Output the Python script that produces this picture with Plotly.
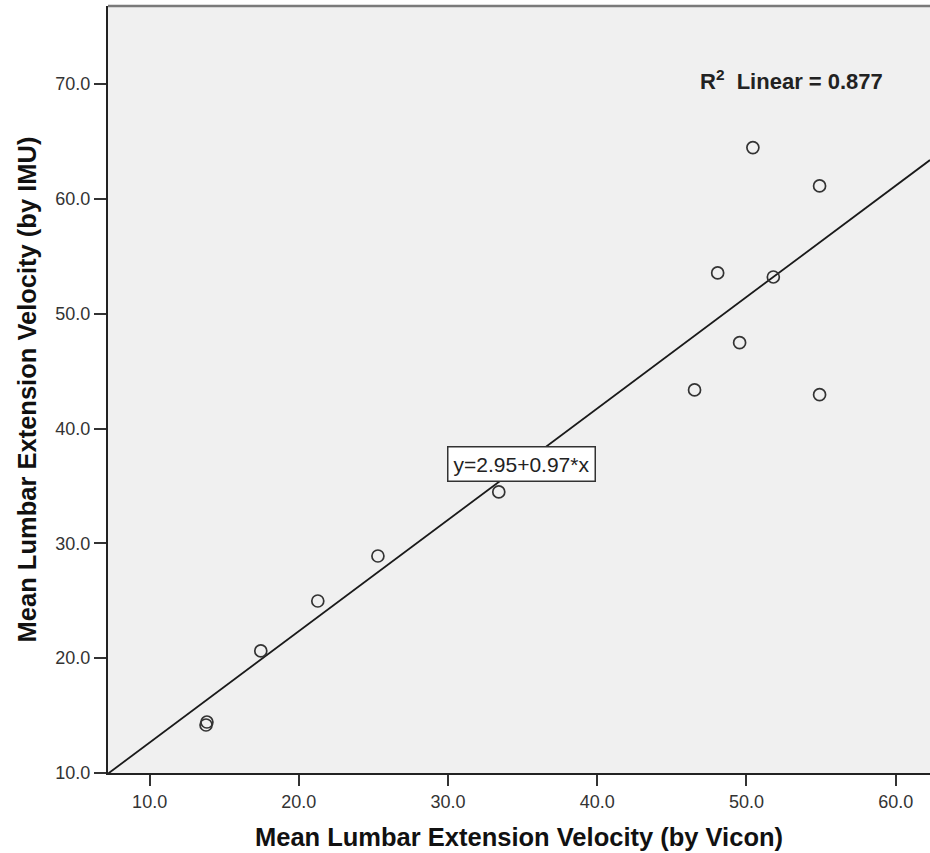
import plotly.graph_objects as go

vicon = [13.84, 13.78, 17.45, 21.27, 25.3, 33.4, 46.52, 49.54, 54.9, 48.07, 51.8, 50.43, 54.9]
imu = [14.44, 14.18, 20.63, 24.98, 28.9, 34.48, 43.36, 47.48, 42.95, 53.55, 53.2, 64.47, 61.13]
intercept = 2.95
slope = 0.97
r2 = 0.877
x_range = [7.21, 62.3]
y_range = [10.0, 76.8]
tick_vals = [10, 20, 30, 40, 50, 60, 70]

line_x = x_range
line_y = [intercept + slope * v for v in line_x]

fig = go.Figure()
fig.add_trace(go.Scatter(x=line_x, y=line_y, mode="lines",
                         line=dict(color="#1a1a1a", width=1.8), hoverinfo="skip"))
fig.add_trace(go.Scatter(x=vicon, y=imu, mode="markers",
                         marker=dict(symbol="circle-open", size=12, color="#333333",
                                     line=dict(width=1.7, color="#333333"))))

fig.add_annotation(x=34.94, y=36.87, xref="x", yref="y",
                   text=f"y={intercept:.2f}+{slope:.2f}*x", showarrow=False,
                   font=dict(family="Liberation Sans, Arial", size=21, color="#222222"),
                   bgcolor="white", bordercolor="#333333", borderwidth=1.5, borderpad=5)
fig.add_annotation(x=53.02, y=70.37, xref="x", yref="y",
                   text=f"<b>R<sup>2</sup>  Linear = {r2:.3f}</b>", showarrow=False,
                   font=dict(family="Liberation Sans, Arial", size=22, color="#222222"))

fig.add_shape(type="line", xref="paper", yref="paper", x0=0, x1=1, y0=1, y1=1,
              line=dict(color="#7a7a7a", width=2.5))

tick_font = dict(family="Liberation Sans, Arial", size=18, color="#333333")
title_font = dict(family="Liberation Sans, Arial", size=25.5, color="#111111")

fig.update_xaxes(range=x_range, tickvals=tick_vals[:-1],
                 ticktext=[f"{v:.1f}" for v in tick_vals[:-1]],
                 showgrid=False, zeroline=False, showline=True, linecolor="#222222", linewidth=2,
                 ticks="outside", ticklen=11, tickwidth=2, tickcolor="#333333",
                 tickfont=tick_font,
                 title=dict(text="<b>Mean Lumbar Extension Velocity (by Vicon)</b>",
                            font=title_font, standoff=18))
fig.update_yaxes(range=y_range, tickvals=tick_vals,
                 ticktext=[f"{v:.1f}" for v in tick_vals],
                 showgrid=False, zeroline=False, showline=True, linecolor="#222222", linewidth=2,
                 ticks="outside", ticklen=12, tickwidth=2, tickcolor="#333333",
                 tickfont=tick_font,
                 title=dict(text="<b>Mean Lumbar Extension Velocity (by IMU)</b>",
                            font=title_font, standoff=11))

fig.update_layout(width=930, height=853, margin=dict(l=108, r=0, t=6, b=80, autoexpand=False),
                  plot_bgcolor="#f0f0f0", paper_bgcolor="white", showlegend=False)

fig.write_html("out.html")
